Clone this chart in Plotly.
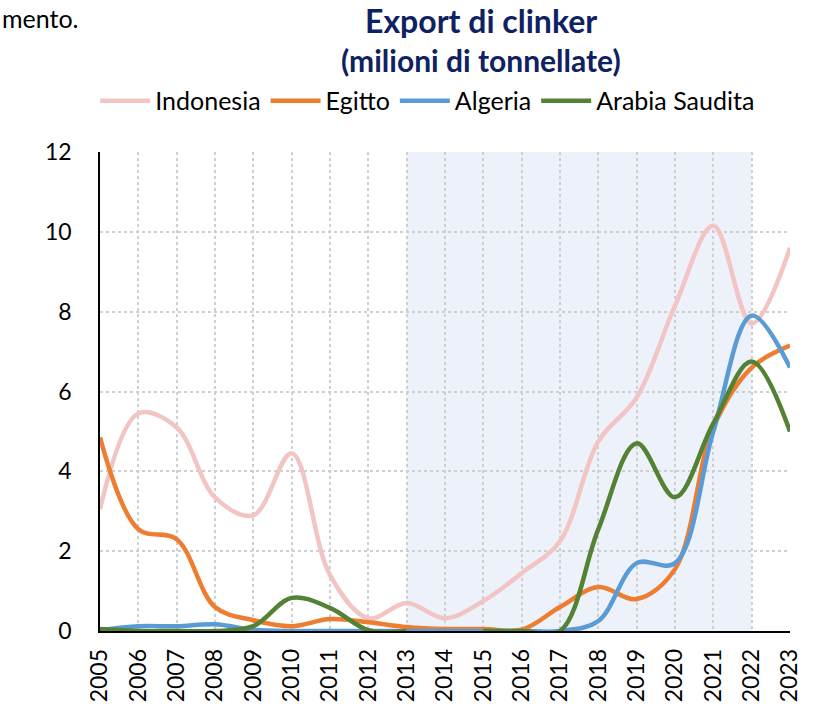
import plotly.graph_objects as go

years = [str(y) for y in range(2005, 2024)]
indonesia = [3.05, 5.45, 5.1, 3.35, 2.9, 4.45, 1.4, 0.32, 0.7, 0.32, 0.75, 1.45, 2.25, 4.75, 5.85, 8.15, 10.15, 7.7, 9.6]
egitto = [4.85, 2.55, 2.3, 0.6, 0.27, 0.12, 0.3, 0.22, 0.1, 0.05, 0.05, 0.03, 0.6, 1.1, 0.8, 1.55, 5.1, 6.6, 7.15]
algeria = [0.02, 0.12, 0.12, 0.17, 0.03, 0.0, 0.0, 0.0, 0.0, 0.0, 0.0, 0.0, 0.0, 0.25, 1.7, 1.7, 5.0, 7.9, 6.6]
arabia = [0.05, 0.0, 0.0, 0.0, 0.12, 0.83, 0.58, 0.02, 0.0, None, 0.0, 0.0, 0.0, 2.55, 4.7, 3.35, 5.2, 6.75, 5.0]
y_ticks = [0, 2, 4, 6, 8, 10, 12]
shade_start, shade_end = "2013", "2022"

names = ["Indonesia", "Egitto", "Algeria", "Arabia Saudita"]
colors = ["#F2C4C4", "#ED7D31", "#5B9BD5", "#548235"]
series = [indonesia, egitto, algeria, arabia]

FONT = "Lato"
TITLE_COLOR = "#0E2160"
fig = go.Figure()
for n, c, s in zip(names, colors, series):
    fig.add_trace(go.Scatter(x=years, y=s, name=n, mode="lines",
                             line=dict(color=c, width=4.5, shape="spline", smoothing=1.0),
                             connectgaps=False))

fig.add_shape(type="rect", xref="x", yref="y",
              x0=years.index(shade_start), x1=years.index(shade_end), y0=0, y1=12,
              fillcolor="#EDF2FA", line=dict(width=0), layer="below")

fig.update_layout(
    width=829, height=708,
    margin=dict(l=100, r=39, t=152, b=77),
    paper_bgcolor="white", plot_bgcolor="white",
    font=dict(family=FONT, size=23, color="black"),
    showlegend=True,
    legend=dict(orientation="h", x=0.475, xanchor="center", y=1.1065, yanchor="middle",
                font=dict(family=FONT, size=25, color="black"),
                itemwidth=50, tracegroupgap=0, bgcolor="rgba(0,0,0,0)"),
    xaxis=dict(type="category", range=[0, 18], tickangle=-90, showline=True,
               linecolor="black", linewidth=1.5, showgrid=True, gridcolor="#CFCFCF",
               griddash="dot", gridwidth=1.5, ticks="", tickfont=dict(size=23, family=FONT),
               zeroline=False, ticklabelstandoff=7, automargin=False, layer="above traces"),
    yaxis=dict(range=[0, 12], tickvals=y_ticks, showline=True, linecolor="black",
               linewidth=1.5, showgrid=True, gridcolor="#CFCFCF", griddash="dot",
               gridwidth=1.5, ticks="", tickfont=dict(size=23, family=FONT),
               zeroline=False, ticklabelstandoff=22, automargin=False),
    annotations=[
        dict(text="<b>Export di clinker</b>", xref="paper", yref="paper", x=0.552, y=1.2735,
             xanchor="center", yanchor="middle", showarrow=False,
             font=dict(family=FONT, size=32, color=TITLE_COLOR)),
        dict(text="<b>(milioni di tonnellate)</b>", xref="paper", yref="paper", x=0.552, y=1.192,
             xanchor="center", yanchor="middle", showarrow=False,
             font=dict(family=FONT, size=30, color=TITLE_COLOR)),
        dict(text="mento.", xref="paper", yref="paper", x=-0.1449, y=1.2797,
             xanchor="left", yanchor="middle", showarrow=False,
             font=dict(family=FONT, size=25, color="black")),
    ],
)
fig.write_html("out.html", config={"displayModeBar": False},
               post_script="document.body.style.margin='0px';")
